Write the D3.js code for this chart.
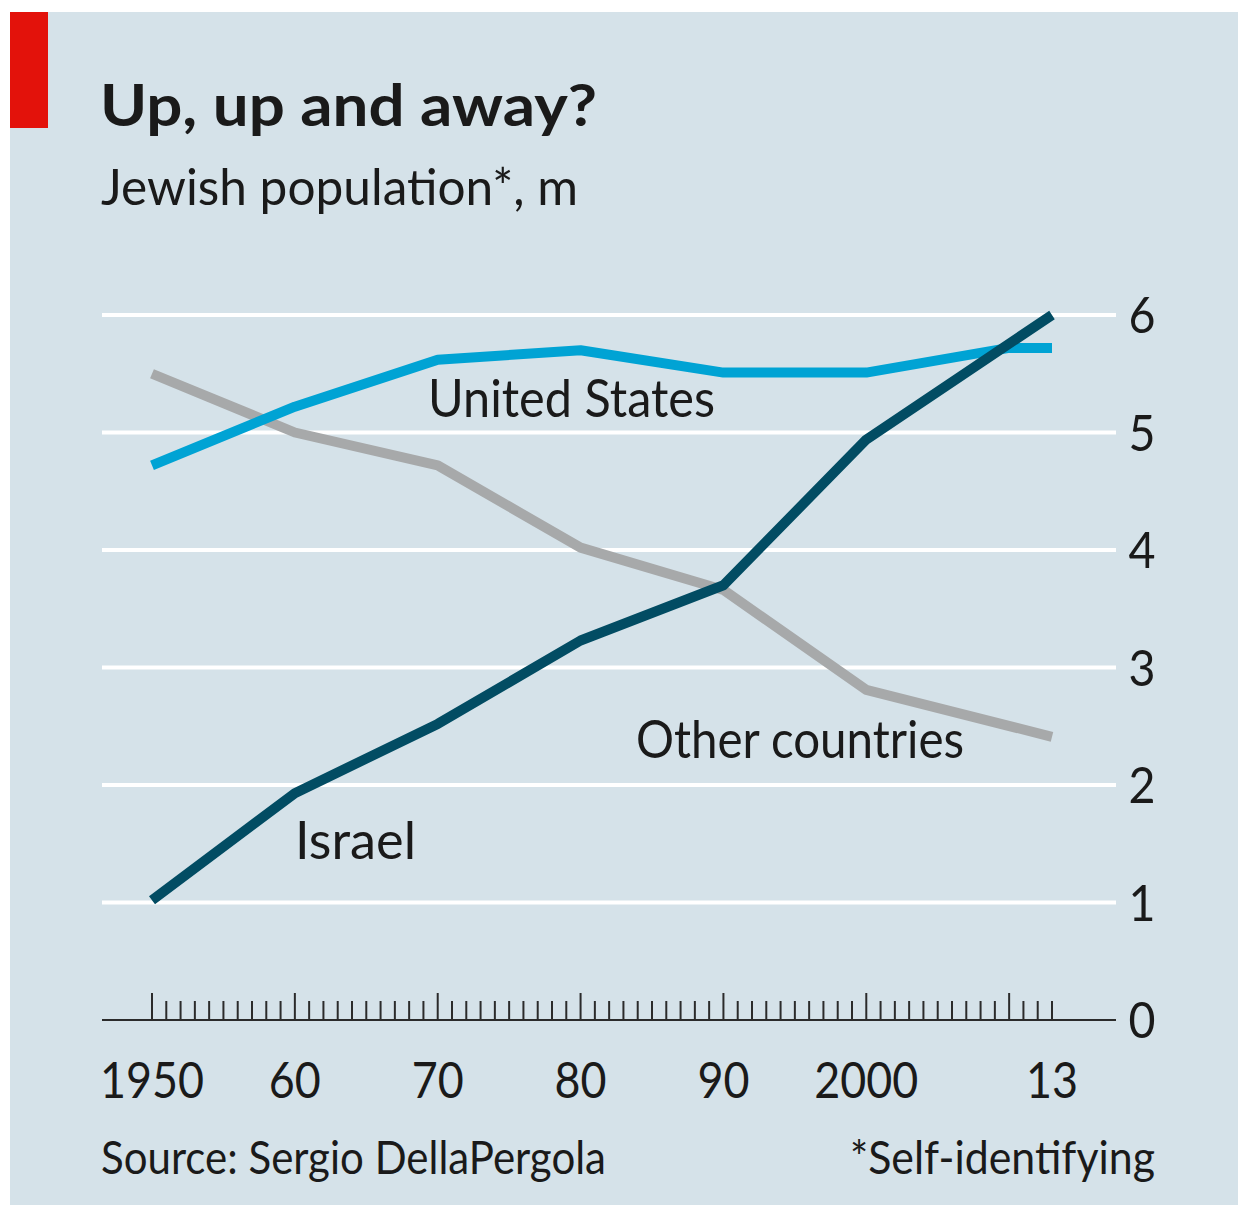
<!DOCTYPE html>
<html>
<head>
<meta charset="utf-8">
<script src="https://cdn.jsdelivr.net/npm/d3@7"></script>
<style>
  body { margin: 0; background: #ffffff; }
  text { font-family: "Lato", "Noto Sans", sans-serif; fill: #1a1a1a; }
</style>
</head>
<body>
<div id="chart"></div>
<script>
// data
const years = [1950, 1960, 1970, 1980, 1990, 2000, 2010, 2013];
const israel = [1.02, 1.93, 2.52, 3.23, 3.70, 4.94, null, 6.0];
const unitedStates = [4.72, 5.22, 5.62, 5.70, 5.51, 5.51, 5.72, 5.72];
const otherCountries = [5.50, 5.00, 4.72, 4.02, 3.66, 2.81, null, 2.41];
const yTicks = [0, 1, 2, 3, 4, 5, 6];
const xTickYears = [1950, 1960, 1970, 1980, 1990, 2000, 2013];
const xTickLabels = ["1950", "60", "70", "80", "90", "2000", "13"];

const width = 1238, height = 1207;

let svg = d3.select("#chart").append("svg")
    .attr("width", width)
    .attr("height", height);

//=================================================
// background + red tag
//=================================================
svg.append("rect")
    .attr("x", 10).attr("y", 12)
    .attr("width", width - 10).attr("height", 1193)
    .attr("fill", "#d5e2e9");
svg.append("rect")
    .attr("x", 10).attr("y", 12)
    .attr("width", 38).attr("height", 116)
    .attr("fill", "#e3120b");

//=================================================
// scales
//=================================================
let x = d3.scaleLinear().domain([1950, 2013]).range([152, 1052]);
let y = d3.scaleLinear().domain([0, 6]).range([1020, 315]);

//=================================================
// titles
//=================================================
svg.append("text")
    .attr("x", 100).attr("y", 126)
    .attr("font-size", 58).attr("font-weight", 700)
    .attr("textLength", 497).attr("lengthAdjust", "spacingAndGlyphs")
    .text("Up, up and away?");
svg.append("text")
    .attr("x", 101).attr("y", 205)
    .attr("font-size", 50)
    .attr("textLength", 477).attr("lengthAdjust", "spacingAndGlyphs")
    .text("Jewish population*, m");

//=================================================
// gridlines + y labels
//=================================================
svg.append("g")
    .selectAll("line")
    .data(yTicks.filter(d => d > 0))
    .join("line")
    .attr("x1", 102).attr("x2", 1116)
    .attr("y1", d => y(d)).attr("y2", d => y(d))
    .attr("stroke", "#ffffff").attr("stroke-width", 4);

svg.append("g")
    .selectAll("text")
    .data(yTicks)
    .join("text")
    .attr("x", 1142)
    .attr("y", d => y(d) + 18)
    .attr("text-anchor", "middle")
    .attr("font-size", 50)
    .attr("textLength", 27).attr("lengthAdjust", "spacingAndGlyphs")
    .text(d => d);

//=================================================
// x axis: baseline, yearly ticks, labels
//=================================================
svg.append("line")
    .attr("x1", 102).attr("x2", 1116)
    .attr("y1", y(0)).attr("y2", y(0))
    .attr("stroke", "#2b2b2b").attr("stroke-width", 2);

svg.append("g")
    .selectAll("line")
    .data(d3.range(1950, 2014))
    .join("line")
    .attr("x1", d => x(d)).attr("x2", d => x(d))
    .attr("y1", d => d % 10 === 0 ? y(0) - 27 : y(0) - 19)
    .attr("y2", y(0))
    .attr("stroke", "#2b2b2b").attr("stroke-width", 2);

svg.append("g")
    .selectAll("text")
    .data(xTickYears)
    .join("text")
    .attr("x", d => x(d))
    .attr("y", 1098)
    .attr("text-anchor", "middle")
    .attr("font-size", 50)
    .attr("textLength", (d, i) => xTickLabels[i].length * 26)
    .attr("lengthAdjust", "spacingAndGlyphs")
    .text((d, i) => xTickLabels[i]);

//=================================================
// lines
//=================================================
let series = [
    { name: "Other countries", values: otherCountries, color: "#a7a9aa" },
    { name: "United States", values: unitedStates, color: "#00a3d4" },
    { name: "Israel", values: israel, color: "#024c63" }
];

let line = d3.line()
    .defined(d => d.v !== null)
    .x(d => x(d.year))
    .y(d => y(d.v));

for (let s of series) {
    let pts = years.map((yr, i) => ({ year: yr, v: s.values[i] })).filter(d => d.v !== null);
    svg.append("path")
        .datum(pts)
        .attr("d", line)
        .attr("fill", "none")
        .attr("stroke", s.color)
        .attr("stroke-width", 10)
        .attr("stroke-linejoin", "round");
}

//=================================================
// series labels
//=================================================
let labels = [
    { text: "United States", x: 428, y: 417, w: 287 },
    { text: "Other countries", x: 636, y: 758, w: 328 },
    { text: "Israel", x: 295, y: 859, w: 121 }
];
svg.append("g")
    .selectAll("text")
    .data(labels)
    .join("text")
    .attr("x", d => d.x).attr("y", d => d.y)
    .attr("font-size", 52)
    .attr("textLength", d => d.w).attr("lengthAdjust", "spacingAndGlyphs")
    .text(d => d.text);

//=================================================
// footer
//=================================================
svg.append("text")
    .attr("x", 101).attr("y", 1174)
    .attr("font-size", 46)
    .attr("textLength", 505).attr("lengthAdjust", "spacingAndGlyphs")
    .text("Source: Sergio DellaPergola");
svg.append("text")
    .attr("x", 1155).attr("y", 1174)
    .attr("text-anchor", "end")
    .attr("font-size", 46)
    .attr("textLength", 305).attr("lengthAdjust", "spacingAndGlyphs")
    .text("*Self-identifying");
</script>
</body>
</html>
